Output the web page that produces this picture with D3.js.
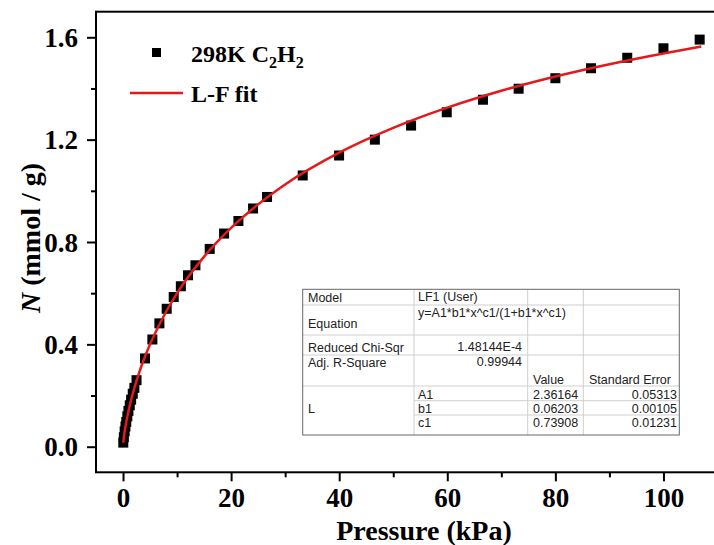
<!DOCTYPE html>
<html>
  <head>
    <meta charset="utf-8">
    <title>C2H2 isotherm</title>
    <script src="https://d3js.org/d3.v7.min.js"></script>
    <style>
      body{
        margin: 0;
        background: #fff;
      }
      .tick-label{
        font-family: "Liberation Serif", serif;
        font-weight: bold;
        font-size: 27px;
      }
      .axis-title{
        font-family: "Liberation Serif", serif;
        font-weight: bold;
        font-size: 28px;
      }
      .legend{
        font-family: "Liberation Serif", serif;
        font-weight: bold;
        font-size: 24px;
      }
      .tbl{
        font-family: "Liberation Sans", Arial, sans-serif;
        font-size: 12.5px;
        fill: #222;
      }
    </style>
  </head>
  <body>
    <div id="container"></div>
    <script>

      // DATA - measured points (kPa, mmol/g)
      const pressure = [0.05, 0.15, 0.3, 0.45, 0.6, 0.8, 1.0, 1.25, 1.5, 1.8, 2.1, 2.5,
        4.07, 5.43, 6.73, 8.08, 9.38, 10.7, 12.03, 13.4, 16.04, 18.7, 21.35, 24.06, 26.65,
        33.25, 39.98, 46.6, 53.3, 59.9, 66.6, 73.2, 80.0, 86.6, 93.3, 100.0, 106.7];
      const uptake = [0.016, 0.037, 0.060, 0.079, 0.097, 0.119, 0.140, 0.162, 0.184, 0.207, 0.230, 0.260,
        0.345, 0.419, 0.482, 0.539, 0.585, 0.627, 0.670, 0.709, 0.773, 0.833, 0.882, 0.931, 0.976,
        1.060, 1.138, 1.200, 1.255, 1.307, 1.356, 1.399, 1.440, 1.479, 1.520, 1.557, 1.591];

      // DATA - L-F fit curve
      const fitX = [0.05, 0.2, 0.5, 1, 2, 3, 5, 7.5, 10, 15, 20, 25, 30, 40, 50, 60, 70, 80, 90, 100, 107];
      const fitY = [0.016, 0.044, 0.085, 0.138, 0.222, 0.290, 0.400, 0.509, 0.600, 0.743, 0.855, 0.947,
        1.025, 1.149, 1.246, 1.325, 1.391, 1.447, 1.495, 1.537, 1.564];

      // TICKS
      const xTicks = [0, 20, 40, 60, 80, 100];
      const xMinor = [10, 30, 50, 70, 90, 110];
      const yTicks = [0.0, 0.4, 0.8, 1.2, 1.6];
      const yMinor = [0.2, 0.6, 1.0, 1.4];

      // FIT TABLE TEXT
      const tblModel = ["Model", "LF1 (User)"];
      const tblEquation = ["Equation", "y=A1*b1*x^c1/(1+b1*x^c1)"];
      const tblChi = ["Reduced Chi-Sqr", "1.48144E-4"];
      const tblR2 = ["Adj. R-Square", "0.99944"];
      const tblHead = ["Value", "Standard Error"];
      const tblParams = ["A1", "b1", "c1"];
      const tblValues = ["2.36164", "0.06203", "0.73908"];
      const tblErrors = ["0.05313", "0.00105", "0.01231"];

      const width = 714, height = 545;

      const svg = d3.select("#container")
        .append("svg")
        .attr("width", width)
        .attr("height", height);

      // SCALES (right side of the frame runs off the picture)
      const x = d3.scaleLinear().domain([-5, 110]).range([96, 717.5]);
      const y = d3.scaleLinear().domain([-0.1, 1.7]).range([472.3, 11.7]);

      // FRAME
      svg.append("rect")
        .attr("x", x(-5)).attr("y", y(1.7))
        .attr("width", x(110) - x(-5)).attr("height", y(-0.1) - y(1.7))
        .attr("fill", "none")
        .attr("stroke", "#000")
        .attr("stroke-width", 2);

      // X AXIS
      const xAxis = svg.append("g")
        .attr("transform", "translate(0," + y(-0.1) + ")")
        .call(d3.axisBottom(x).tickValues(xTicks).tickSize(9).tickFormat(d3.format("d")));
      xAxis.select(".domain").remove();
      xAxis.selectAll("line").attr("stroke-width", 2);
      xAxis.selectAll("text")
        .attr("class", "tick-label")
        .attr("fill", "#000")
        .attr("dy", null)
        .attr("y", 35);
      svg.append("g")
        .attr("transform", "translate(0," + y(-0.1) + ")")
        .call(d3.axisBottom(x).tickValues(xMinor).tickSize(5).tickFormat(""))
        .call(g => g.select(".domain").remove())
        .selectAll("line").attr("stroke-width", 2);

      // Y AXIS
      const yAxis = svg.append("g")
        .attr("transform", "translate(" + x(-5) + ",0)")
        .call(d3.axisLeft(y).tickValues(yTicks).tickSize(9).tickFormat(d3.format(".1f")));
      yAxis.select(".domain").remove();
      yAxis.selectAll("line").attr("stroke-width", 2);
      yAxis.selectAll("text")
        .attr("class", "tick-label")
        .attr("fill", "#000")
        .attr("x", -18)
        .attr("dy", "0.34em");
      svg.append("g")
        .attr("transform", "translate(" + x(-5) + ",0)")
        .call(d3.axisLeft(y).tickValues(yMinor).tickSize(5).tickFormat(""))
        .call(g => g.select(".domain").remove())
        .selectAll("line").attr("stroke-width", 2);

      // AXIS TITLES
      svg.append("text")
        .attr("class", "axis-title")
        .attr("x", 424).attr("y", 540)
        .attr("text-anchor", "middle")
        .text("Pressure (kPa)");

      const yt = svg.append("text")
        .attr("class", "axis-title")
        .attr("text-anchor", "middle")
        .attr("transform", "translate(40,238) rotate(-90)");
      yt.append("tspan").attr("font-style", "italic").text("N");
      yt.append("tspan").text(" (mmol / g)");

      // POINTS
      const pts = pressure.map((p, i) => ({ p: p, n: uptake[i] }));
      const s = 10;
      svg.selectAll(".pt")
        .data(pts)
        .enter()
        .append("rect")
        .attr("class", "pt")
        .attr("x", d => x(d.p) - s / 2)
        .attr("y", d => y(d.n) - s / 2)
        .attr("width", s)
        .attr("height", s)
        .attr("fill", "#000");

      // FIT LINE
      const fit = fitX.map((v, i) => [v, fitY[i]]);
      svg.append("path")
        .datum(fit)
        .attr("fill", "none")
        .attr("stroke", "#e3191c")
        .attr("stroke-width", 2.5)
        .attr("d", d3.line().x(d => x(d[0])).y(d => y(d[1])).curve(d3.curveMonotoneX));

      // LEGEND
      svg.append("rect")
        .attr("x", 152).attr("y", 48).attr("width", 9).attr("height", 9)
        .attr("fill", "#000");
      const lg = svg.append("text").attr("class", "legend").attr("x", 191).attr("y", 62);
      lg.append("tspan").text("298K C");
      lg.append("tspan").attr("font-size", "16px").attr("dy", 6).text("2");
      lg.append("tspan").attr("dy", -6).text("H");
      lg.append("tspan").attr("font-size", "16px").attr("dy", 6).text("2");

      svg.append("line")
        .attr("x1", 130).attr("x2", 183).attr("y1", 93).attr("y2", 93)
        .attr("stroke", "#e3191c").attr("stroke-width", 2.5);
      svg.append("text").attr("class", "legend").attr("x", 191).attr("y", 102).text("L-F fit");

      // FIT TABLE
      const cols = [302.7, 414, 527.7, 583.3, 679.3];
      const rows = [289.3, 305, 335, 355, 386, 400.7, 415, 435];
      const tbl = svg.append("g");
      tbl.append("rect")
        .attr("x", cols[0]).attr("y", rows[0])
        .attr("width", cols[4] - cols[0]).attr("height", rows[7] - rows[0])
        .attr("fill", "#fff");

      // inner grid lines
      [[cols[0], cols[4], rows[1]], [cols[0], cols[4], rows[2]], [cols[0], cols[4], rows[3]],
       [cols[0], cols[4], rows[4]], [cols[1], cols[4], rows[5]], [cols[1], cols[4], rows[6]]]
        .forEach(l => tbl.append("line")
          .attr("x1", l[0]).attr("x2", l[1]).attr("y1", l[2]).attr("y2", l[2])
          .attr("stroke", "#cfcfcf"));
      cols.slice(1, 4).forEach(c => tbl.append("line")
        .attr("x1", c).attr("x2", c).attr("y1", rows[0]).attr("y2", rows[7])
        .attr("stroke", "#cfcfcf"));
      tbl.append("rect")
        .attr("x", cols[0]).attr("y", rows[0])
        .attr("width", cols[4] - cols[0]).attr("height", rows[7] - rows[0])
        .attr("fill", "none")
        .attr("stroke", "#666");

      const cell = (tx, ty, str, anchor) => tbl.append("text")
        .attr("class", "tbl")
        .attr("x", tx).attr("y", ty + 4.5)
        .attr("text-anchor", anchor || "start")
        .text(str);

      cell(308, 297, tblModel[0]);
      cell(418, 296, tblModel[1]);
      cell(308, 323, tblEquation[0]);
      cell(418, 312, tblEquation[1]);
      cell(308, 347, tblChi[0]);
      cell(522, 346, tblChi[1], "end");
      cell(308, 362, tblR2[0]);
      cell(522, 361, tblR2[1], "end");
      cell(533, 379, tblHead[0]);
      cell(589, 379, tblHead[1]);
      cell(308, 408, "L");
      const prY = [394, 408, 422];
      tblParams.forEach((p, i) => {
        cell(418, prY[i], p);
        cell(533, prY[i], tblValues[i]);
        cell(677, prY[i], tblErrors[i], "end");
      });

    </script>
  </body>
</html>
